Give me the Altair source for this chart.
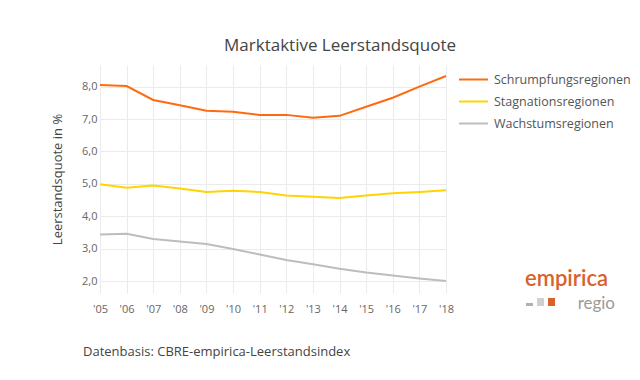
import altair as alt
import pandas as pd

years = list(range(2005, 2019))
series_names = ["Schrumpfungsregionen", "Stagnationsregionen", "Wachstumsregionen"]
schrumpfung = [8.05, 8.02, 7.59, 7.43, 7.26, 7.23, 7.13, 7.13, 7.04, 7.10, 7.38, 7.66, 8.00, 8.33]
stagnation = [4.99, 4.88, 4.95, 4.86, 4.75, 4.79, 4.75, 4.64, 4.60, 4.56, 4.64, 4.71, 4.75, 4.80]
wachstum = [3.44, 3.46, 3.30, 3.22, 3.14, 2.99, 2.82, 2.65, 2.52, 2.38, 2.26, 2.17, 2.08, 2.00]
colors = ["#ff6a0e", "#ffd400", "#bdbdbd"]

rows = []
for name, vals in zip(series_names, [schrumpfung, stagnation, wachstum]):
    for y, v in zip(years, vals):
        rows.append({"Jahr": y, "Wert": v, "Region": name})
df = pd.DataFrame(rows)

FONT = "Open Sans"
LOGO_FONT = "Lato"

lines = alt.Chart(df).mark_line(strokeWidth=2).encode(
    x=alt.X("Jahr:Q", scale=alt.Scale(domain=[2005, 2018], nice=False, zero=False),
            axis=alt.Axis(values=years, title=None, labelExpr="\"'\" + substring(toString(datum.value), 2)",
                          domain=False, ticks=False, labelPadding=10, gridColor="#ebebeb",
                          labelFlush=False, labelOverlap=False,
                          labelColor="#666", labelFontSize=11, labelFont=FONT)),
    y=alt.Y("Wert:Q", scale=alt.Scale(domain=[1.63, 8.67], nice=False, zero=False),
            axis=alt.Axis(values=[2, 3, 4, 5, 6, 7, 8], title="Leerstandsquote in %",
                          labelExpr="replace(format(datum.value, '.1f'), '.', ',')",
                          domain=False, ticks=False, labelPadding=3, gridColor="#ebebeb",
                          labelColor="#666", labelFontSize=11, labelFont=FONT,
                          titleColor="#444", titleFontSize=13, titleFont=FONT,
                          titleFontWeight="normal", titlePadding=17)),
    color=alt.Color("Region:N", sort=series_names,
                    scale=alt.Scale(domain=series_names, range=colors),
                    legend=alt.Legend(title=None, orient="none", legendX=358, legendY=-1,
                                      symbolType="stroke", symbolStrokeWidth=2, symbolSize=840,
                                      labelFont=FONT, labelFontSize=12.5, labelColor="#555",
                                      rowPadding=-7, labelOffset=5)),
)

caption = alt.Chart(pd.DataFrame({"t": ["Datenbasis: CBRE-empirica-Leerstandsindex"]})).mark_text(
    align="left", baseline="middle", font=FONT, fontSize=13, color="#444"
).encode(text="t:N", x=alt.value(-17), y=alt.value(287))

logo1 = alt.Chart(pd.DataFrame({"t": ["empirica"]})).mark_text(
    align="left", baseline="alphabetic", font=LOGO_FONT, fontSize=22, fontWeight=600, color="#d9622b"
).encode(text="t:N", x=alt.value(425), y=alt.value(221))

logo2 = alt.Chart(pd.DataFrame({"t": ["regio"]})).mark_text(
    align="right", baseline="alphabetic", font=LOGO_FONT, fontSize=17, color="#9a9a9a"
).encode(text="t:N", x=alt.value(515), y=alt.value(244))

sq1 = alt.Chart(pd.DataFrame({"a": [0]})).mark_rect(color="#b0b0b0").encode(
    x=alt.value(426), x2=alt.value(433), y=alt.value(238), y2=alt.value(241))
sq2 = alt.Chart(pd.DataFrame({"a": [0]})).mark_rect(color="#cfcfcf").encode(
    x=alt.value(437), x2=alt.value(444), y=alt.value(233), y2=alt.value(241))
sq3 = alt.Chart(pd.DataFrame({"a": [0]})).mark_rect(color="#d9622b").encode(
    x=alt.value(448), x2=alt.value(455), y=alt.value(233), y2=alt.value(241))

chart = alt.layer(lines, caption, logo1, logo2, sq1, sq2, sq3).properties(
    width=346, height=228,
    title=alt.TitleParams("Marktaktive Leerstandsquote", anchor="middle", dx=67, offset=9,
                          font=FONT, fontSize=17, fontWeight="normal", color="#444"),
    autosize=alt.AutoSizeParams(type="none"),
    padding={"left": 92, "top": 57, "right": 186, "bottom": 79},
).configure_view(stroke=None)

chart.save("out.html", embed_options={"renderer": "svg", "actions": False})
